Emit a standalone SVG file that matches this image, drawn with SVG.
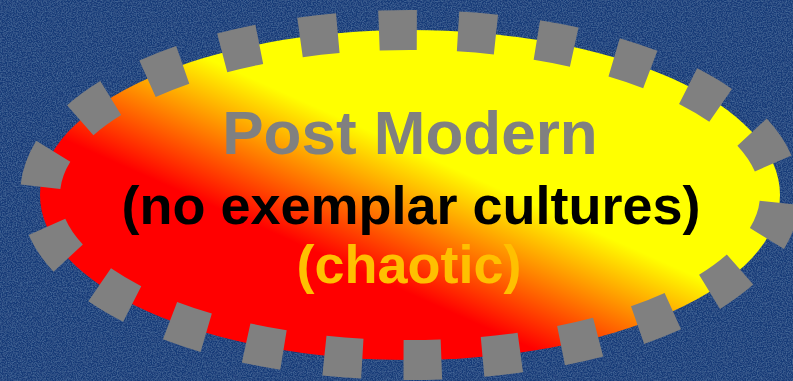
<svg xmlns="http://www.w3.org/2000/svg" width="793" height="381" viewBox="0 0 793 381">
  <defs>
    <linearGradient id="fillGrad" x1="0" y1="1" x2="1" y2="0">
      <stop offset="0.35" stop-color="#ff0000"/>
      <stop offset="0.46" stop-color="#ff8000"/>
      <stop offset="0.57" stop-color="#ffff00"/>
    </linearGradient>
    <filter id="grain" x="0" y="0" width="100%" height="100%">
      <feTurbulence type="fractalNoise" baseFrequency="0.8" numOctaves="2" seed="3" result="n"/>
      <feColorMatrix in="n" type="matrix" values="0 0 0 0 0.14  0 0 0 0 0.30  0 0 0 0 0.54  0 0 0 0.8 -0.3" result="c"/>
      <feComposite in="c" in2="SourceGraphic" operator="over"/>
    </filter>
    <style>
      .bg { fill: #183b78; }
      .shape { fill: url(#fillGrad); stroke: #808080; stroke-width: 40; stroke-dasharray: 38 41.23; stroke-dashoffset: -8; }
      .t { font-family: "Liberation Sans", Arial, sans-serif; font-weight: bold; text-anchor: middle; }
      .title { font-size: 62px; fill: #808080; }
      .sub { font-size: 54px; fill: #000000; }
      .note { font-size: 54px; fill: #ffc000; }
    </style>
  </defs>
  <rect class="bg" x="0" y="0" width="793" height="381" filter="url(#grain)"/>
  <g id="connectors"/>
  <g id="node-postmodern">
    <ellipse class="shape" cx="410" cy="195" rx="370" ry="165"/>
    <text class="t title" x="410" y="154">Post Modern</text>
    <text class="t sub" x="411" y="224">(no exemplar cultures)</text>
    <text class="t note" x="409" y="283">(chaotic)</text>
  </g>
</svg>
